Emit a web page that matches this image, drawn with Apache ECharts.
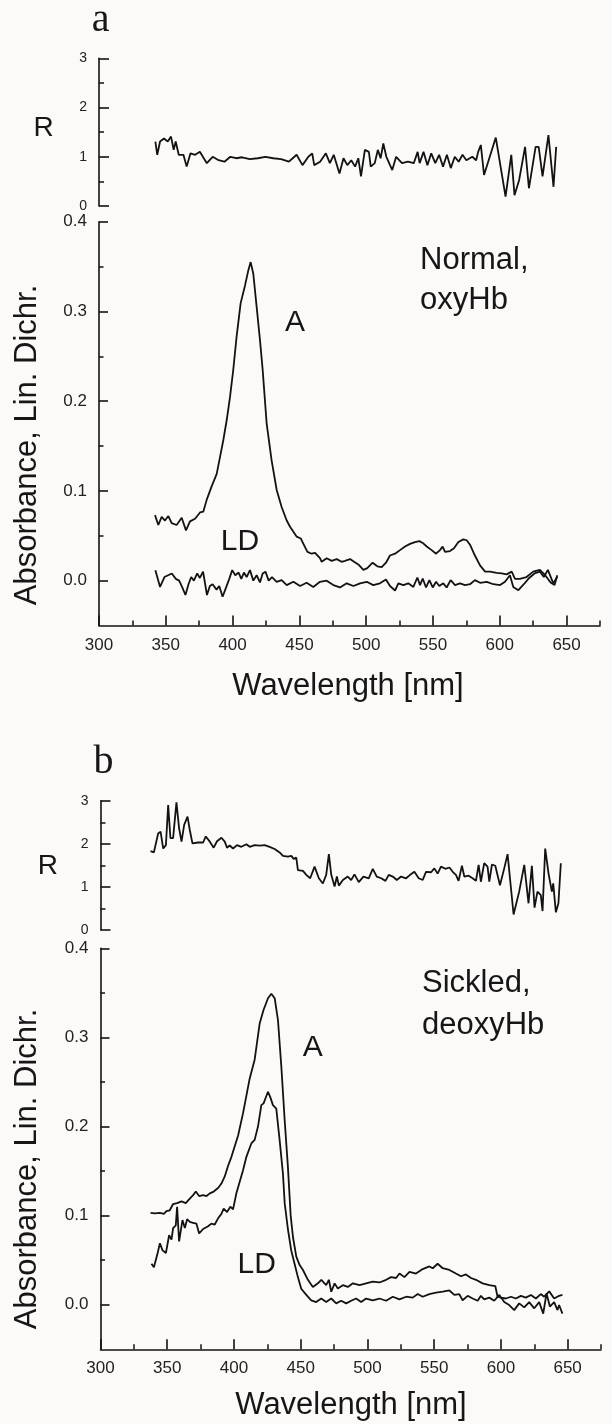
<!DOCTYPE html>
<html>
<head>
<meta charset="utf-8">
<script src="https://cdn.jsdelivr.net/npm/echarts@6/dist/echarts.min.js"></script>
<style>
  html, body { margin: 0; padding: 0; background: #fcfaf9; }
  #chart { width: 612px; height: 1424px; }
</style>
</head>
<body>
<div id="chart"></div>
<script>
// ---------- axis values ----------
const xMajorTicks = [300, 350, 400, 450, 500, 550, 600, 650];
const xMinorTicks = [325, 375, 425, 475, 525, 575, 625, 675];
const yMainMajorTicks = [0, 0.1, 0.2, 0.3, 0.4];
const yMainMinorTicks = [0.05, 0.15, 0.25, 0.35];
const rMajorTicks = [0, 1, 2, 3];
const rMinorTicks = [0.5, 1.5, 2.5];

// ---------- panel a : Normal, oxyHb ----------
const ratioA = [[342.2,1.31],[343.6,1.04],[345.7,1.31],[348.6,1.37],[351.5,1.31],[353.9,1.41],[355.9,1.14],[357.4,1.31],[359.7,1.04],[363.2,1.04],[365.6,0.80],[368.5,1.07],[372,1.04],[375.5,1.10],[380.7,0.87],[385.1,1.00],[389.5,0.93],[393.9,0.90],[398.3,1.00],[402.7,0.97],[407.1,0.99],[412.9,0.95],[418.8,0.97],[424.6,1.00],[430.4,0.97],[436.3,0.95],[442.1,0.90],[445,0.97],[447.9,1.04],[452.3,0.83],[456.7,1.00],[459.6,1.07],[461.1,0.83],[465.5,0.90],[469.8,1.07],[472.8,0.87],[475.7,1.04],[480,0.66],[483,0.97],[485.9,0.83],[488.8,0.93],[491.7,0.80],[494.1,0.97],[496.1,0.60],[499,1.14],[502,1.10],[503.4,0.80],[506.4,0.87],[508.7,1.14],[510.8,0.97],[512.8,1.27],[515.1,1.00],[519.5,0.73],[522.4,1.00],[526.8,0.87],[531.2,0.90],[535.6,0.87],[538.5,1.10],[540,0.87],[542.9,1.10],[545.8,0.83],[548.7,1.07],[551.7,0.87],[554.6,1.04],[557.5,0.80],[560.4,1.04],[563.3,0.77],[566.3,1.00],[569.2,0.90],[572.1,1.04],[575,0.93],[579.4,1.00],[582.3,0.93],[583.8,1.10],[585.8,1.24],[588.2,0.63],[597,1.39],[604.3,0.19],[608.6,1.04],[611,0.22],[614.5,0.53],[618.9,1.20],[621.8,0.36],[626.8,1.20],[629.1,1.20],[632,0.60],[636.4,1.44],[640.2,0.39],[642.2,1.20]];

const absA = [[341.9,0.073],[344.4,0.062],[346.9,0.071],[349.4,0.067],[351.9,0.072],[354.4,0.064],[358.1,0.062],[361.9,0.070],[365.1,0.056],[368.1,0.066],[371.9,0.069],[375.6,0.076],[378.1,0.077],[380.6,0.090],[384.3,0.105],[388.1,0.119],[390.6,0.138],[393.1,0.157],[395.6,0.179],[398.1,0.205],[400.5,0.235],[403.0,0.272],[406.0,0.309],[409.3,0.329],[411.8,0.346],[413.5,0.355],[415.5,0.342],[418,0.305],[420.5,0.268],[422.5,0.235],[425.5,0.175],[429.2,0.134],[433,0.101],[436.7,0.082],[440.5,0.067],[443,0.060],[448,0.049],[451,0.047],[453,0.041],[456,0.032],[459.2,0.030],[461.7,0.031],[465.4,0.025],[466.7,0.021],[470.4,0.025],[474.2,0.022],[477.9,0.024],[481.6,0.021],[484.1,0.022],[487.9,0.024],[490.9,0.021],[494.1,0.018],[497.9,0.012],[500.8,0.014],[504.8,0.020],[508.3,0.016],[511.6,0.015],[514.8,0.020],[517.8,0.028],[521.6,0.030],[525.3,0.034],[529.1,0.038],[532.8,0.041],[536.5,0.043],[539.8,0.044],[542.3,0.042],[545.3,0.038],[549,0.034],[552.3,0.030],[555.2,0.034],[557.2,0.038],[559,0.032],[562.7,0.033],[565.7,0.036],[569,0.043],[572.7,0.046],[575.2,0.045],[577.7,0.040],[580.7,0.030],[585.2,0.017],[589,0.010],[592.7,0.010],[597.7,0.0087],[601.4,0.008],[605.1,0.007],[608.9,0.010],[611.4,0.002],[615,0.002],[620,0.004],[625,0.010],[630,0.012],[634,0.006],[638,-0.002],[641,-0.005],[643,0.006]];

const ldA = [[342.2,0.0117],[345.7,-0.007],[349,0.004],[354.5,0.008],[357.5,0.002],[360,0.0],[362.5,-0.008],[364.7,-0.016],[367,-0.004],[369,0.004],[371,0.0],[373.5,0.008],[375.5,0.003],[377.9,0.010],[380.8,-0.016],[383,-0.006],[385,-0.004],[388,-0.010],[390,-0.006],[392.5,-0.018],[395,-0.008],[397.5,0.002],[399.7,0.0117],[402,0.006],[404.5,0.009],[406.5,0.002],[408.5,0.009],[410.5,0.004],[413,0.0117],[415.5,0.000],[418,0.006],[420.5,-0.002],[422.5,0.008],[424.6,0.010],[427,0.0],[429.5,0.004],[433,-0.0013],[436.7,0.0006],[440.5,-0.005],[445.5,-0.0013],[450.5,-0.006],[455.4,-0.0024],[460.4,-0.007],[465.4,-0.0013],[470.4,0],[475.4,-0.005],[480.4,-0.0076],[485.4,-0.003],[490.4,-0.006],[495.4,-0.003],[500.4,-0.0013],[505.3,-0.005],[510.3,-0.003],[514.8,0.0013],[517.8,-0.006],[521.6,-0.011],[524.1,-0.003],[527.8,-0.005],[531.5,-0.003],[535.3,-0.007],[538.3,0.0035],[540.3,-0.005],[542.3,0.0024],[544.8,-0.0076],[547.3,0.0006],[549.8,-0.0076],[552.3,-0.0013],[554.7,-0.006],[557.7,-0.003],[560.2,-0.0076],[563.2,0.0006],[566.5,-0.005],[570.2,-0.003],[574,-0.005],[577.7,-0.004],[581.4,0.0006],[585.2,-0.0024],[590.2,-0.0013],[595.2,-0.004],[600.2,-0.005],[603.9,-0.0013],[607.6,0.006],[610.1,-0.007],[613.9,-0.0106],[618,-0.004],[622,0.003],[626,0.008],[630,0.010],[633,0.004],[636,0.012],[640,-0.003],[643,0.004]];

// ---------- panel b : Sickled, deoxyHb ----------
const ratioB = [[337.5,1.83],[340,1.80],[343.2,2.24],[345,2.28],[347,1.89],[349,1.97],[350.7,2.90],[352.4,2.13],[354.4,2.13],[356.9,2.96],[358.9,2.36],[360.7,2.05],[362.7,2.44],[365.2,2.63],[366.9,2.32],[368.9,2.01],[373.1,2.03],[376.9,2.03],[378.9,2.17],[381.9,2.05],[384.8,1.91],[387.3,2.06],[390.6,2.14],[393.1,2.05],[394.8,1.91],[396.8,1.96],[399.3,1.89],[402.3,1.97],[405.5,1.93],[409.3,1.99],[411.8,1.93],[415.5,1.97],[419.3,1.96],[423,1.97],[426.7,1.93],[430.5,1.88],[434.2,1.80],[436.7,1.72],[440.4,1.70],[443,1.72],[444.7,1.65],[446.7,1.68],[447.9,1.39],[451.7,1.37],[454.2,1.28],[457.1,1.20],[460.4,1.47],[463.6,1.20],[466.6,1.08],[469.1,1.28],[471.1,1.76],[472.9,1.28],[475.4,1.01],[477.1,1.24],[478.6,1.03],[481.6,1.16],[485.3,1.24],[487.8,1.16],[490.3,1.29],[493.5,1.11],[497,1.24],[501,1.20],[504,1.42],[507,1.24],[510.3,1.20],[513.5,1.14],[516,1.28],[519,1.24],[522,1.16],[525.2,1.24],[529,1.20],[532,1.28],[535.2,1.35],[538.4,1.20],[541.4,1.16],[543.9,1.35],[547.7,1.34],[550.1,1.43],[552.6,1.31],[555.1,1.47],[558.4,1.42],[561.4,1.45],[563.9,1.35],[566.3,1.28],[568.3,1.14],[570.8,1.49],[572.6,1.24],[575.8,1.26],[578.8,1.20],[581.3,1.14],[583.3,1.51],[585,1.12],[587.5,1.55],[590,1.47],[591.3,1.12],[593.3,1.52],[595.8,1.49],[599.3,1.04],[602.5,1.43],[605,1.76],[609.5,0.36],[613.7,0.89],[617.5,1.51],[620.7,0.62],[623.2,1.49],[625.2,0.52],[627.4,0.89],[629.9,0.81],[631.2,0.44],[633.2,1.89],[635.7,1.31],[638.2,0.89],[639.2,1.08],[641.2,0.41],[643.1,0.62],[644.9,1.55]];

const absB = [[337.5,0.103],[340.7,0.1025],[344.5,0.103],[347.5,0.102],[349.4,0.105],[351.9,0.106],[354.4,0.113],[357.4,0.114],[360.7,0.116],[363.9,0.114],[366.9,0.119],[369.4,0.123],[371.4,0.127],[373.9,0.122],[376.9,0.123],[379.4,0.122],[381.9,0.125],[384.8,0.127],[388.1,0.131],[390.6,0.136],[393.1,0.144],[395.6,0.156],[398.1,0.166],[403.1,0.190],[406.8,0.215],[411.8,0.254],[415.5,0.275],[419.3,0.316],[422.2,0.331],[425.5,0.344],[428,0.349],[430.5,0.344],[433,0.319],[435.5,0.267],[438,0.207],[440.4,0.155],[442.5,0.100],[444.2,0.076],[446.7,0.054],[449.2,0.0445],[451.7,0.039],[455.4,0.028],[459.1,0.020],[462.9,0.024],[465.4,0.028],[469.1,0.022],[471.1,0.028],[472.9,0.0146],[475.4,0.024],[477.8,0.0183],[481.6,0.022],[485.3,0.020],[489.1,0.024],[494.1,0.022],[499,0.024],[504,0.026],[509,0.025],[514,0.028],[517.7,0.031],[521.5,0.030],[524,0.035],[527.7,0.031],[531.5,0.037],[536.4,0.035],[541.4,0.040],[546.4,0.043],[548.9,0.041],[552.6,0.046],[556.4,0.041],[561.4,0.039],[566.3,0.035],[570.1,0.032],[573.8,0.034],[577.6,0.030],[581.3,0.028],[586.3,0.024],[591.3,0.022],[595.8,0.021],[597.5,0.009],[600,0.008],[603.7,0.007],[607.5,0.009],[611.2,0.007],[615,0.010],[618.7,0.008],[622.5,0.011],[626.2,0.007],[629.9,0.012],[632.4,0.009],[636.2,0.015],[639.9,0.007],[643.6,0.010],[646.1,0.011]];

const ldB = [[338.2,0.046],[340,0.042],[342.5,0.056],[344.5,0.069],[346.5,0.061],[349,0.058],[351.4,0.078],[353.2,0.073],[354.4,0.086],[356.4,0.089],[357.4,0.110],[358.9,0.071],[361.4,0.095],[363.2,0.086],[364.9,0.096],[366.9,0.093],[369.4,0.092],[371.9,0.091],[373.9,0.080],[376.9,0.085],[380.6,0.088],[383.1,0.091],[385.6,0.090],[388.1,0.097],[390.6,0.102],[392.3,0.108],[394.8,0.104],[397.3,0.110],[399.3,0.107],[401.8,0.125],[404.3,0.138],[406.8,0.151],[409.3,0.166],[413,0.181],[415.5,0.185],[418,0.200],[420.5,0.224],[422.2,0.226],[423.7,0.232],[425.5,0.239],[427.2,0.233],[429.2,0.224],[430.5,0.226],[431.7,0.220],[434.2,0.185],[436.7,0.147],[438,0.114],[440.4,0.085],[442.9,0.061],[445.4,0.046],[447.9,0.031],[450.4,0.018],[454.2,0.011],[457.9,0.005],[461.6,0.003],[465.4,0.007],[469.1,0.003],[472.9,0.007],[476.6,0.0015],[480.3,0.0045],[484.1,0.0015],[487.8,0.0045],[491.5,0.007],[495.3,0.003],[499,0.007],[504,0.005],[509,0.007],[514,0.0045],[519,0.009],[524,0.006],[529,0.009],[533.9,0.008],[537.7,0.012],[541.4,0.009],[546.4,0.012],[551.4,0.0135],[556.4,0.0146],[561.4,0.016],[565.1,0.011],[568.8,0.012],[571.3,0.005],[575.1,0.010],[578.8,0.007],[582.6,0.0045],[585,0.010],[587.5,0.006],[591.3,0.008],[595,0.0045],[598.8,0.011],[602.5,0.003],[606.2,-0.0003],[610,-0.006],[613.7,0.0015],[617.5,-0.003],[621.2,0.003],[625,-0.004],[628.7,0.003],[631.7,-0.010],[634.2,0.0127],[636.7,-0.002],[639.9,0.003],[642.4,-0.006],[643.6,-0.0003],[646.1,-0.010]];

// ---------- styling helpers ----------
const INK = '#121212';
const FONT = '"Liberation Sans", Arial, Helvetica, sans-serif';

function hiddenX(grid) {
  return { type: 'value', gridIndex: grid, min: 300, max: 675, show: false };
}
function majorX(grid) {
  return {
    type: 'value', gridIndex: grid, min: 300, max: 675, position: 'bottom',
    axisLine: { show: true, onZero: false, lineStyle: { color: INK, width: 1.6 } },
    axisTick: { show: true, inside: true, length: 10, customValues: xMajorTicks, lineStyle: { color: INK, width: 1.6 } },
    axisLabel: { show: true, customValues: xMajorTicks, margin: 11, color: '#222', fontSize: 17, fontFamily: FONT },
    splitLine: { show: false }
  };
}
function minorX(grid) {
  return {
    type: 'value', gridIndex: grid, min: 300, max: 675, position: 'bottom',
    axisLine: { show: false, onZero: false },
    axisTick: { show: true, inside: true, length: 5, customValues: xMinorTicks, lineStyle: { color: INK, width: 1.5 } },
    axisLabel: { show: false },
    splitLine: { show: false }
  };
}
function majorY(grid, min, max, ticks, fmt, fs, len) {
  return {
    type: 'value', gridIndex: grid, min: min, max: max, position: 'left',
    axisLine: { show: true, onZero: false, lineStyle: { color: INK, width: 1.6 } },
    axisTick: { show: true, inside: true, length: len, customValues: ticks, lineStyle: { color: INK, width: 1.6 } },
    axisLabel: { show: true, customValues: ticks, margin: 12, color: '#222', fontSize: fs, fontFamily: FONT, formatter: fmt },
    splitLine: { show: false }
  };
}
function minorY(grid, min, max, ticks, len) {
  return {
    type: 'value', gridIndex: grid, min: min, max: max, position: 'left',
    axisLine: { show: false, onZero: false },
    axisTick: { show: true, inside: true, length: len, customValues: ticks, lineStyle: { color: INK, width: 1.5 } },
    axisLabel: { show: false },
    splitLine: { show: false }
  };
}
const fmtMain = v => v.toFixed(1);
const fmtR = v => String(Math.round(v));

function line(data, xi, yi) {
  return {
    type: 'line', data: data, xAxisIndex: xi, yAxisIndex: yi,
    showSymbol: false, symbol: 'none', smooth: false, animation: false,
    lineStyle: { color: INK, width: 1.8 }
  };
}
function txt(x, y, s, size, opts) {
  opts = opts || {};
  return {
    type: 'text', x: x, y: y, rotation: opts.rot || 0, silent: true,
    style: {
      text: s, fill: '#161616', fontSize: size,
      fontFamily: opts.family || FONT,
      align: opts.align || 'center', verticalAlign: 'middle'
    }
  };
}

const chart = echarts.init(document.getElementById('chart'), null, { renderer: 'canvas' });
chart.setOption({
  backgroundColor: '#fcfaf9',
  animation: false,
  grid: [
    { left: 99, top: 58.3, width: 501, height: 147.7 },
    { left: 99, top: 221.7, width: 501, height: 403.8 },
    { left: 100.5, top: 800.7, width: 500.5, height: 129.3 },
    { left: 100.5, top: 948.3, width: 500.5, height: 401 }
  ],
  xAxis: [
    hiddenX(0),
    majorX(1), minorX(1),
    hiddenX(2),
    majorX(3), minorX(3)
  ],
  yAxis: [
    majorY(0, 0, 3, rMajorTicks, fmtR, 14, 10), minorY(0, 0, 3, rMinorTicks, 5),
    majorY(1, -0.05, 0.4, yMainMajorTicks, fmtMain, 17, 9), minorY(1, -0.05, 0.4, yMainMinorTicks, 4.5),
    majorY(2, 0, 3, rMajorTicks, fmtR, 14, 10), minorY(2, 0, 3, rMinorTicks, 5),
    majorY(3, -0.05, 0.4, yMainMajorTicks, fmtMain, 17, 9), minorY(3, -0.05, 0.4, yMainMinorTicks, 4.5)
  ],
  series: [
    line(ratioA, 0, 0),
    line(absA, 1, 2),
    line(ldA, 1, 2),
    line(ratioB, 3, 4),
    line(absB, 4, 6),
    line(ldB, 4, 6)
  ],
  graphic: [
    txt(100.7, 20, 'a', 40, { family: '"Liberation Serif", "Times New Roman", serif' }),
    txt(103.4, 762, 'b', 40, { family: '"Liberation Serif", "Times New Roman", serif' }),
    txt(43.7, 128.3, 'R', 28),
    txt(47.8, 866, 'R', 28),
    txt(420, 260, 'Normal,', 31, { align: 'left' }),
    txt(420, 300, 'oxyHb', 31, { align: 'left' }),
    txt(422, 983, 'Sickled,', 31, { align: 'left' }),
    txt(422, 1025, 'deoxyHb', 31, { align: 'left' }),
    txt(295, 323, 'A', 30),
    txt(240, 542, 'LD', 30),
    txt(312.7, 1048, 'A', 30),
    txt(256.7, 1265, 'LD', 30),
    txt(27, 445, 'Absorbance, Lin. Dichr.', 31, { rot: Math.PI / 2 }),
    txt(27, 1169, 'Absorbance, Lin. Dichr.', 31, { rot: Math.PI / 2 }),
    txt(348, 686, 'Wavelength [nm]', 31),
    txt(351, 1405, 'Wavelength [nm]', 31)
  ]
});
</script>
</body>
</html>
